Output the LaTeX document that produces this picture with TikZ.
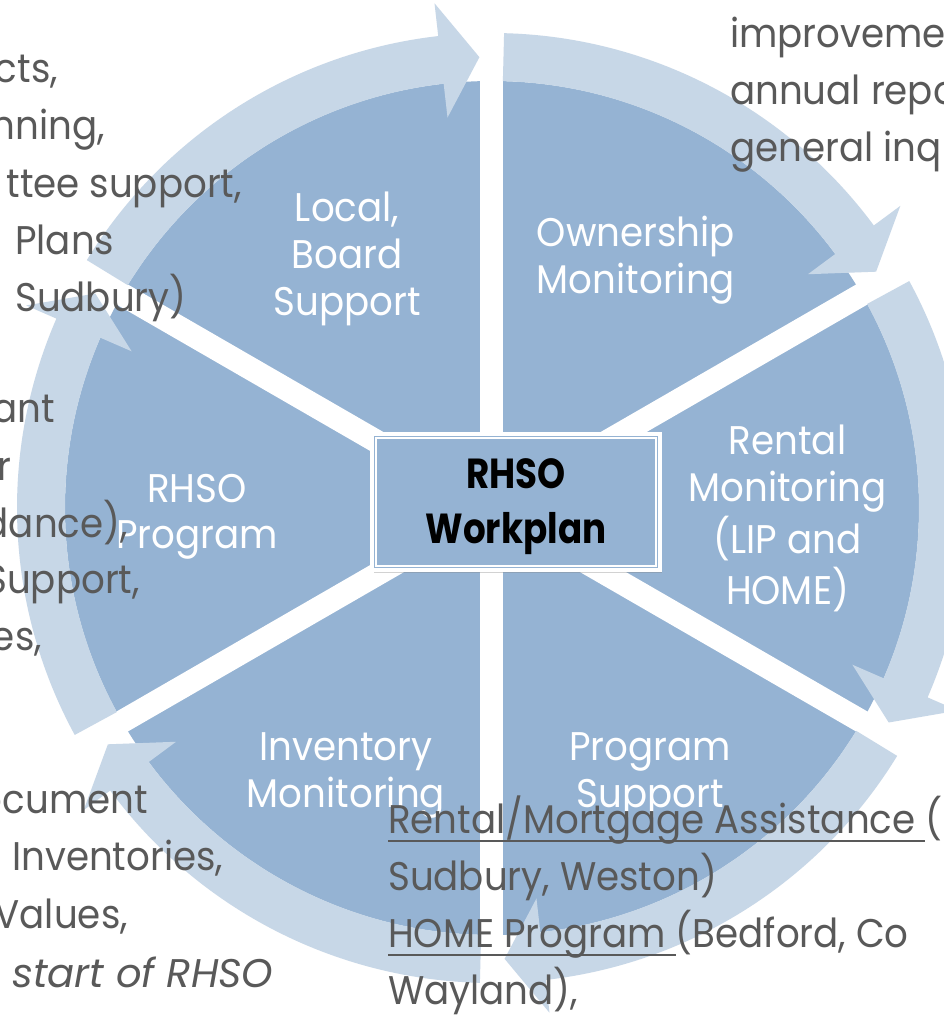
\documentclass[tikz,border=0pt]{standalone}
\usepackage{fontspec}
\setmainfont{Poppins}[FakeStretch=0.93]
\newfontfamily\boxfont{Poppins}[UprightFont=* Bold, FakeStretch=0.85]
\newfontfamily\itfont{Poppins}[UprightFont=* Italic]
\usetikzlibrary{shadows}
\definecolor{secblue}{HTML}{95B3D3}
\definecolor{arrblue}{HTML}{C7D7E7}
\definecolor{txtgrey}{HTML}{595959}
\newcommand\stk[2][c]{\begin{tabular}[t]{@{}#1@{}}#2\end{tabular}}
\newlength\ulwd
\newcommand\myul[1]{\settowidth\ulwd{#1}\rlap{\color{txtgrey}\rule[-9pt]{\ulwd}{2pt}}#1}
\begin{document}
\begin{tikzpicture}[x=1pt,y=1pt,
  wlbl/.style={text=white, font=\fontsize{40}{47}\selectfont, inner sep=0pt, anchor=base},
  glbl/.style={text=txtgrey, font=\fontsize{40}{57}\selectfont, inner sep=0pt},
  arrowshape/.style={fill=arrblue, draw=none},
  gapline/.style={draw=white, line width=23pt},
]
\clip (-492,-507) rectangle (452,508);
\useasboundingbox (-492,-507) rectangle (452,508);
\fill[white] (-492,-507) rectangle (452,508);
% pie
\node[circle, fill=secblue, minimum size=854pt, inner sep=0pt] (disc) at (0,0) {};
\foreach \a in {90,30,-30} { \draw[gapline] (\a:445) -- (\a+180:445); }
% circular arrows
\foreach \g in {90,30,-30,-90,-150,150} {
  \pgfmathsetmacro\s{\g-1.46}
  \pgfmathsetmacro\b{\g-53.5}
  \pgfmathsetmacro\t{\g-58.4}
  \fill[arrowshape] (\s:427) -- (\s:475) arc[start angle=\s, end angle=\b, radius=475pt]
    -- (\b:508) -- (\t:451) -- (\b:393) -- (\b:427)
    arc[start angle=\b, end angle=\s, radius=427pt] -- cycle;
}
% sector labels
\node[wlbl] (lbs) at (-145,286) {\stk{Local,\\Board\\Support}};
\node[wlbl] (own) at (144,261) {\stk{Ownership\\Monitoring}};
\node[wlbl] (ren) at (295.5,53) {\stk{Rental\\Monitoring\\(LIP and\\HOME)}};
\node[wlbl] (prs) at (158,-252) {\stk{Program\\Support}};
\node[wlbl] (inv) at (-146,-252) {\stk{Inventory\\Monitoring}};
\node[wlbl] (rpr) at (-295,6) {\stk{RHSO\\Program}};
% centre box
\node[draw=white, line width=4pt, fill=secblue, minimum width=288pt, minimum height=136pt, inner sep=0pt,
  drop shadow={shadow xshift=2pt, shadow yshift=-3pt, opacity=0.35}] (wp) at (24,6) {};
\draw[white, line width=1.5pt] ([shift={(6,-6)}]wp.north west) rectangle ([shift={(-6,6)}]wp.south east);
\node[font=\fontsize{42}{55}\boxfont, inner sep=0pt, anchor=base] (wpt) at (24,20) {\stk{RHSO\\Workplan}};
% grey clipped texts
\node[glbl, anchor=base east] (t1) at (-434,425) {cts,};
\node[glbl, anchor=base east] (t2) at (-387,368) {nning,};
\node[glbl, anchor=base east] (t3) at (-250,310) {ttee support,};
\node[glbl, anchor=base west] (t4) at (-477,253) {\stk[l]{Plans\\Sudbury)}};
\node[glbl, anchor=base east] (m1) at (-437,85) {ant};
\node[glbl, anchor=base east] (m2) at (-480,28) {r};
\node[glbl, anchor=base east] (m3) at (-364,-29) {dance),};
\node[glbl, anchor=base east] (m4) at (-352,-85) {Support,};
\node[glbl, anchor=base east] (m5) at (-450,-142) {es,};
\node[glbl, anchor=base east] (b1) at (-344,-305) {ocument};
\node[glbl, anchor=base west] (b2) at (-480,-362) {Inventories,};
\node[glbl, anchor=base east] (b3) at (-364,-420) {Values,};
\node[glbl, anchor=base west] (b4) at (-480,-479) {\itfont start of RHSO};
\node[glbl, anchor=base west] (tr) at (238,460) {\stk[l]{improvemen\\annual repo\\general inq}};
\node[glbl, anchor=base west] (br) at (-104,-325) {\stk[l]{\myul{Rental/Mortgage Assistance }(\\Sudbury, Weston)\\\myul{HOME Program }(Bedford, Co\\Wayland),}};
\end{tikzpicture}
\end{document}
